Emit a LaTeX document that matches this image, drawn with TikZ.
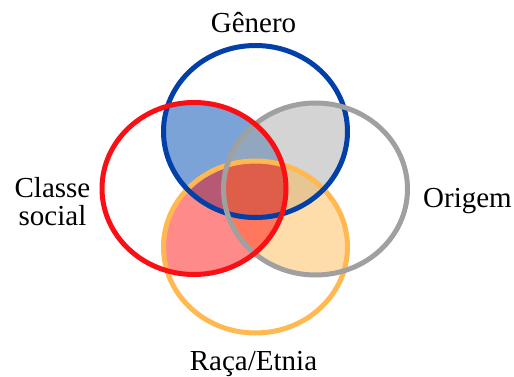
\documentclass[tikz,border=0pt]{standalone}
\usepackage{fontspec}
\setmainfont{Liberation Serif}
\definecolor{genblue}{RGB}{0,64,168}
\definecolor{classred}{RGB}{250,15,20}
\definecolor{origray}{RGB}{160,160,160}
\definecolor{racaorange}{RGB}{255,185,80}
\definecolor{fillblue}{RGB}{123,163,216}
\definecolor{fillgray}{RGB}{170,170,170}
\definecolor{fillorange}{RGB}{255,183,77}
\definecolor{fillred}{RGB}{255,0,0}
\tikzset{
  ring/.style={line width=5pt},
  label/.style={font=\fontsize{29}{28}\selectfont, inner sep=0pt}
}

\begin{document}
\begin{tikzpicture}[x=1pt,y=-1pt]
  \useasboundingbox (0,0) rectangle (514,377);
  % overlaps
  \begin{scope}
    \clip (255.5,131.5) ellipse [x radius=92pt, y radius=86pt];
    \fill[fillblue] (194,188.5) ellipse [x radius=92pt, y radius=86pt];
  \end{scope}
  \begin{scope}
    \clip (255.5,131.5) ellipse [x radius=92pt, y radius=86pt];
    \fill[fillgray, opacity=0.5] (315.5,189) ellipse [x radius=92pt, y radius=86pt];
  \end{scope}
  \begin{scope}
    \clip (255.5,247) ellipse [x radius=92pt, y radius=86pt];
    \fill[fillorange, opacity=0.47] (315.5,189) ellipse [x radius=92pt, y radius=86pt];
  \end{scope}
  \begin{scope}
    \clip (255.5,247) ellipse [x radius=92pt, y radius=86pt];
    \fill[fillred, opacity=0.46] (194,188.5) ellipse [x radius=92pt, y radius=86pt];
  \end{scope}
  % rings
  \draw[ring, racaorange] (255.5,247) ellipse [x radius=92pt, y radius=86pt];
  \draw[ring, genblue] (255.5,131.5) ellipse [x radius=92pt, y radius=86pt];
  \draw[ring, origray] (315.5,189) ellipse [x radius=92pt, y radius=86pt];
  \draw[ring, classred] (194,188.5) ellipse [x radius=92pt, y radius=86pt];
  % labels
  \node[label, anchor=base] (genero) at (253.5,33) {Gênero};
  \node[label, anchor=base] (origem) at (467.5,207) {Origem};
  \node[label, anchor=base] (raca) at (253.5,370) {Raça/Etnia};
  \node[label, align=center] (classe) at (52.5,202) {Classe\\social};
\end{tikzpicture}
\end{document}
